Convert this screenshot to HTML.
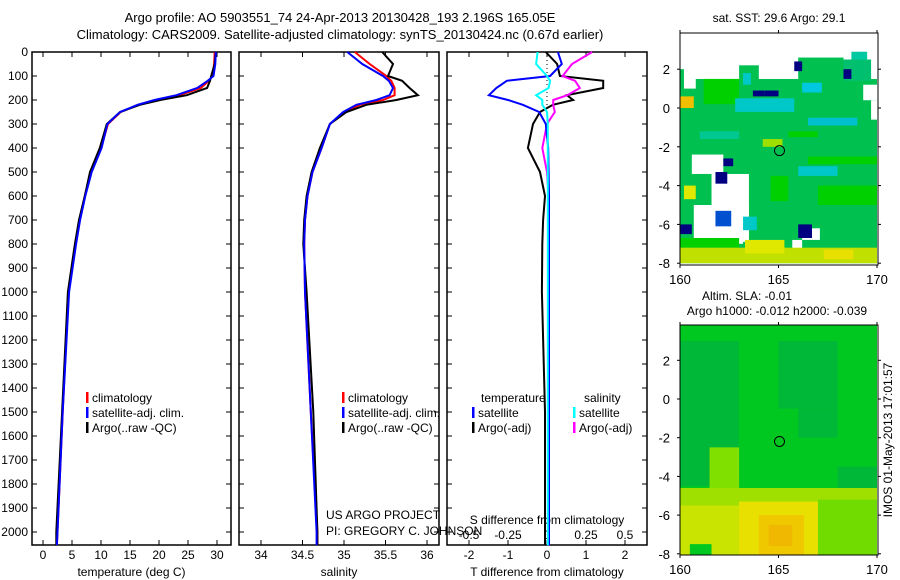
<!DOCTYPE html>
<html><head><meta charset="utf-8"><style>
body{margin:0;background:#fff;}
svg{display:block;font-family:"Liberation Sans",sans-serif;}
</style></head><body>
<svg id="fig" width="900" height="580" viewBox="0 0 900 580">
<text x="340" y="22" font-size="13" text-anchor="middle">Argo profile: AO 5903551_74 24-Apr-2013 20130428_193 2.196S 165.05E</text>
<text x="340" y="39" font-size="13" text-anchor="middle">Climatology: CARS2009. Satellite-adjusted climatology: synTS_20130424.nc (0.67d earlier)</text>
<g id="p1"></g>
<g id="p2"></g>
<g id="p3"></g>
<g id="m1"></g>
<g id="m2"></g>
<text x="892" y="440" font-size="12" transform="rotate(-90 892 440)" text-anchor="middle">IMOS 01-May-2013 17:01:57</text>
</svg>
<script>
const NS="http://www.w3.org/2000/svg";
const depths=[0,50,100,120,150,180,200,220,250,300,400,500,600,700,800,1000,1500,2000,2055];
const tempArgo=[29.8,29.6,29.0,28.8,28.3,24.8,20.2,16.7,13.3,11.0,9.8,8.1,7.2,6.2,5.5,4.3,3.3,2.3,2.3];
const tempClim=[29.6,29.5,29.2,28.6,27.2,23.5,19.6,16.5,13.4,11.2,10.0,8.3,7.2,6.3,5.6,4.4,3.4,2.5,2.4];
const tempSat=[29.8,29.7,29.4,28.4,26.6,23.0,19.2,16.3,13.3,11.1,10.1,8.4,7.3,6.4,5.7,4.5,3.4,2.5,2.4];
const salArgo=[35.46,35.59,35.53,35.70,35.79,35.89,35.63,35.27,35.03,34.83,34.71,34.61,34.55,34.52,34.51,34.55,34.63,34.68,34.68];
const salClim=[35.13,35.31,35.51,35.57,35.61,35.61,35.47,35.19,35.01,34.83,34.73,34.62,34.56,34.53,34.52,34.53,34.60,34.68,34.68];
const salSat=[35.04,35.22,35.47,35.54,35.59,35.55,35.39,35.15,34.99,34.83,34.73,34.62,34.56,34.53,34.52,34.53,34.60,34.67,34.67];
const dTsat=[0.28,0.38,0.08,-1.03,-1.3,-1.49,-1.0,-0.62,-0.2,-0.03,0.03,0.04,0.05,0.05,0.05,0.05,0.05,0.05,0.05];
const dTargo=[-0.03,0.26,0.33,1.44,1.44,0.51,0.67,0.15,-0.18,-0.36,-0.49,-0.18,-0.05,-0.1,-0.12,-0.13,-0.05,-0.05,-0.05];
const dSsat=[-0.06,-0.07,0.0,0.02,0.01,-0.07,-0.03,-0.03,0.0,0.005,0.005,0.005,0.005,0.005,0.005,0.005,0.005,0.005,0.005];
const dSargo=[0.29,0.16,0.1,0.18,0.21,0.13,0.04,0.04,0.05,0.0,-0.03,0.0,0.01,0.01,0.01,0.01,0.01,0.01,0.01];
const depthTicks=[0,100,200,300,400,500,600,700,800,900,1000,1100,1200,1300,1400,1500,1600,1700,1800,1900,2000];
const tTicks=[0,5,10,15,20,25,30];
const sTicks=["34","34.5","35","35.5","36"];
const dTTicks=[-2,-1,0,1,2];
const dSTicks=["-0.5","-0.25","0","0.25","0.5"];

function el(t,a,p){const e=document.createElementNS(NS,t);for(const k in a)e.setAttribute(k,a[k]);p.appendChild(e);return e;}
function txt(p,x,y,s,anchor,size){const t=el('text',{x:x,y:y,'font-size':size||12,'text-anchor':anchor||'start'},p);t.textContent=s;return t;}
const yD=d=>52+d*0.24;
const TOP=52,BOT=545;

function panel(g,x0,x1,xs,ticks,labels,title){
  el('rect',{x:x0,y:TOP,width:x1-x0,height:BOT-TOP,fill:'none',stroke:'#000','stroke-width':1.5},g);
  ticks.forEach((v,i)=>{const x=xs(+v);
    el('line',{x1:x,y1:TOP,x2:x,y2:TOP+5,stroke:'#000'},g);
    el('line',{x1:x,y1:BOT,x2:x,y2:BOT-5,stroke:'#000'},g);
    txt(g,x,559,labels[i],'middle');});
  depthTicks.forEach(d=>{el('line',{x1:x0,y1:yD(d),x2:x0+5,y2:yD(d),stroke:'#000'},g);el('line',{x1:x1,y1:yD(d),x2:x1-5,y2:yD(d),stroke:'#000'},g);});
  txt(g,(x0+x1)/2,576,title,'middle');
}
function line(g,xs,vals,col,name,w){
  const pts=vals.map((v,i)=>xs(v).toFixed(1)+','+yD(depths[i]).toFixed(1)).join(' ');
  const p=el('polyline',{points:pts,fill:'none',stroke:col,'stroke-width':w||2},g);
  
  
}
function legend(g,x,y,items){items.forEach((it,i)=>{el('rect',{x:x,y:y+i*15-10,width:2.5,height:11,fill:it[0]},g);txt(g,x+6,y+i*15,it[1]);});}

const p1=document.getElementById('p1');
const xT=v=>43+v*5.8;
depthTicks.forEach(d=>txt(p1,28,yD(d)+4,String(d),'end'));
panel(p1,32,231,xT,tTicks,tTicks.map(String),'temperature (deg C)');
line(p1,xT,tempClim,'#f00','temp-climatology-line');
line(p1,xT,tempArgo,'#000','temp-argo-line');
line(p1,xT,tempSat,'#00f','temp-satellite-line');
legend(p1,86,402,[['#f00','climatology'],['#00f','satellite-adj. clim.'],['#000','Argo(..raw -QC)']]);

const p2=document.getElementById('p2');
const xS=v=>261+(v-34)*83;
panel(p2,239,439,xS,sTicks,sTicks,'salinity');
line(p2,xS,salClim,'#f00','sal-climatology-line');
line(p2,xS,salArgo,'#000','sal-argo-line');
line(p2,xS,salSat,'#00f','sal-satellite-line');
legend(p2,342,402,[['#f00','climatology'],['#00f','satellite-adj. clim.'],['#000','Argo(..raw -QC)']]);
txt(p2,326,519,'US ARGO PROJECT');
txt(p2,326,535,'PI: GREGORY C. JOHNSON');

const p3=document.getElementById('p3');
const xdT=v=>547+v*39, xdS=v=>547+v*156;
panel(p3,447,647,xdT,dTTicks,dTTicks.map(String),'T difference from climatology');
dSTicks.forEach(s=>txt(p3,xdS(+s),539,s,'middle'));
txt(p3,547,524,'S difference from climatology','middle');
el('line',{x1:547,y1:TOP,x2:547,y2:yD(350),stroke:'#000','stroke-dasharray':'1,3'},p3);
line(p3,xdT,dTargo,'#000','dT-argo-line');
line(p3,xdS,dSargo,'#f0f','dS-argo-line');
line(p3,xdT,dTsat,'#00f','dT-satellite-line');
line(p3,xdS,dSsat,'#0ff','dS-satellite-line');
txt(p3,481,402,'temperature');txt(p3,584,402,'salinity');
legend(p3,472,417,[['#00f','satellite'],['#000','Argo(-adj)']]);
legend(p3,573,417,[['#0ff','satellite'],['#f0f','Argo(-adj)']]);

const lonX=(lon,x0)=>x0+(lon-160)*19.7;
function mapAxes(g,x0,y0,lat2y,h){
  const y1=y0+h, x1=x0+198;
  [160,165,170].forEach(l=>{const x=lonX(l,x0);el('line',{x1:x,y1:y0-3,x2:x,y2:y0,stroke:'#000'},g);el('line',{x1:x,y1:y1,x2:x,y2:y1+3,stroke:'#000'},g);txt(g,x,y1+19,String(l),'middle',13);});
  [2,0,-2,-4,-6,-8].forEach(l=>{const y=lat2y(l);el('line',{x1:x0-3,y1:y,x2:x0,y2:y,stroke:'#000'},g);el('line',{x1:x1,y1:y,x2:x1+3,y2:y,stroke:'#000'},g);txt(g,x0-10,y+5,String(l),'end',13);});
  el('rect',{x:x0,y:y0,width:198,height:h,fill:'none',stroke:'#000'},g);
}
const sstFill=[[160,1.5,170,-8,'#00c050']];
const sstWhite=[[160,4,170,1.5],[160.2,1.5,160.8,1.0],[169.3,1.2,170,0.4],[169.7,0.4,170,-0.6],[160.6,-2.4,162.2,-3.4],[161.6,-3.4,163.5,-6.4],[160.7,-5,163.5,-6.9],[162.5,-6.4,163.2,-7],[166.2,-6.2,167.1,-6.8],[165.7,-6.8,166.2,-7.3]];
const sstSpots=[[163,2.2,164,1.4,'#00c050'],[166,2.6,168.3,1.4,'#00c050'],[168.7,2.9,169.5,2.4,'#00c8a0'],[168.3,2.5,169.7,1.4,'#00c070'],[160,2,160.2,1,'#00c050'],[161.2,1.5,163,0.2,'#00d000'],[160,0.6,160.7,0,'#f0c000'],[165.8,2.4,166.2,1.9,'#000080'],[168.3,2,168.7,1.5,'#000080'],[163.2,1.8,163.6,1.2,'#00c8c8'],[166.2,1.3,167.2,0.8,'#00c8e0'],[162.8,0.5,165.8,-0.2,'#00c8c8'],[163.7,0.9,164.3,0.6,'#000080'],[164.3,0.9,165,0.6,'#000080'],[161.8,-3.3,162.4,-3.9,'#000080'],[161.8,-5.3,162.6,-6.1,'#0050d0'],[163.2,-5.6,163.9,-6.3,'#00c8c8'],[166.0,-6.0,166.7,-6.7,'#000080'],[160,-6,160.6,-6.5,'#000080'],[164.6,-3.5,165.5,-4.8,'#00d000'],[160,-6.7,163,-7.2,'#00d000'],[160,-7.2,170,-8,'#c0e000'],[163.3,-6.8,165.3,-7.5,'#e0e800'],[167.3,-7.3,168.8,-7.8,'#e8e000'],[160.2,-4,160.8,-4.7,'#e0e800'],[164.2,-1.6,165.2,-2,'#a0e000'],[161,-1.2,163,-1.6,'#00c890'],[165.5,-1.2,167,-1.5,'#00d000'],[166,-3,168,-3.5,'#00c8c8'],[166.5,-0.5,169,-0.9,'#00c0d0'],[162.2,-2.6,162.7,-3,'#000080'],[167,-4,170,-5,'#00d000'],[166.5,-2.5,170,-2.9,'#00d000']];
const m1=document.getElementById('m1');
const X1=680,Y1=33,H1=232; const lat1=l=>108-l*19.4;
txt(m1,779,22,'sat. SST: 29.6 Argo: 29.1','middle',12);
function cells(g,arr,lat,x0,col,name){arr.forEach(c=>{const xa=lonX(c[0],x0),xb=lonX(c[2],x0);let ya=Math.max(lat(c[1]),Y1),yb=Math.min(lat(c[3]),Y1+H1);
  const r=el('rect',{x:xa,y:ya,width:xb-xa,height:Math.max(0,yb-ya),fill:col||c[4]},g);
  
  });}
const clip=el('clipPath',{id:'c1'},m1);el('rect',{x:X1,y:Y1,width:198,height:H1},clip);
const g1=el('g',{'clip-path':'url(#c1)'},m1);
cells(g1,sstFill,lat1,X1,null,'sst-cell');
cells(g1,sstWhite,lat1,X1,'#fff','sst-missing-cell');
cells(g1,sstSpots,lat1,X1,null,'sst-cell');
el('circle',{cx:lonX(165.05,X1),cy:lat1(-2.196),r:5,fill:'none',stroke:'#000'},m1);
mapAxes(m1,X1,Y1,lat1,H1);

const m2=document.getElementById('m2');
const X2=680,Y2=325,H2=230; const lat2=l=>399-l*19.35;
txt(m2,747,300,'Altim. SLA: -0.01','middle',12);
txt(m2,777,315,'Argo h1000: -0.012 h2000: -0.039','middle',12);
const slaCells=[[160,4,170,-4.6,'#00c820'],[160,3,163,-4.5,'#00b838'],[165,3,168,-0.5,'#00b838'],[166,-0.5,168,-2,'#00b838'],[168,-3.5,170,-5.5,'#00b838'],[160,-4.6,170,-8.2,'#a0e000'],[161.5,-2.5,163,-4.6,'#80e000'],[167,-5.2,170,-8.2,'#70dc00'],[160,-5.5,167,-8.2,'#c8e400'],[163,-5.3,167,-8.2,'#e8e000'],[164,-6,166.3,-8.2,'#f0c800'],[164.5,-6.5,165.7,-7.6,'#f0b800'],[160.5,-7.5,161.6,-8.2,'#00c820']];
const clip2=el('clipPath',{id:'c2'},m2);el('rect',{x:X2,y:Y2,width:198,height:H2},clip2);
const g2=el('g',{'clip-path':'url(#c2)'},m2);
slaCells.forEach(c=>{const xa=lonX(c[0],X2),xb=lonX(c[2],X2),ya=lat2(c[1]),yb=lat2(c[3]);
  const r=el('rect',{x:xa,y:ya,width:xb-xa,height:yb-ya,fill:c[4]},g2);
  
  });
el('circle',{cx:lonX(165.05,X2),cy:lat2(-2.196),r:5,fill:'none',stroke:'#000'},m2);
mapAxes(m2,X2,Y2,lat2,H2);
</script>
</body></html>
